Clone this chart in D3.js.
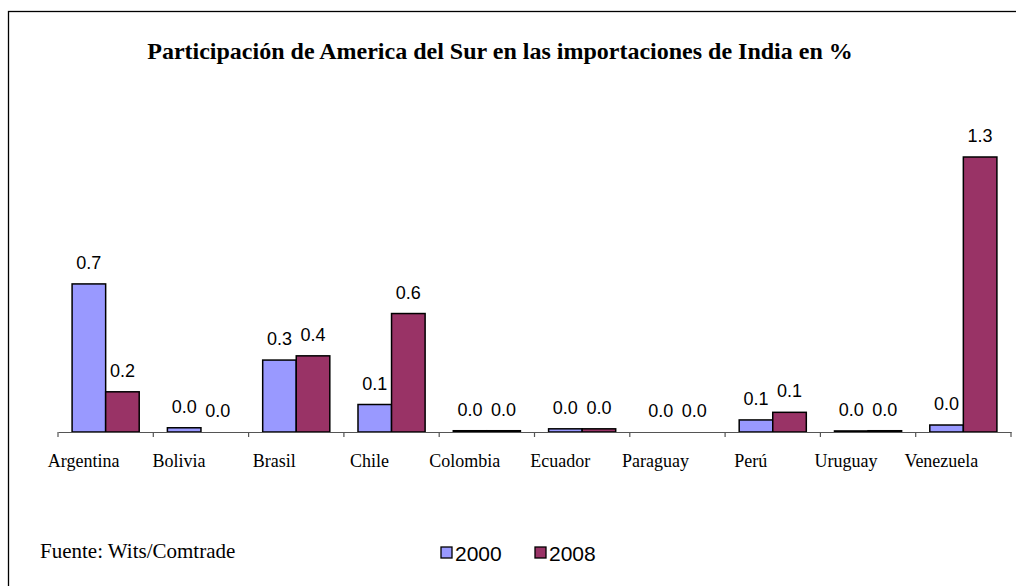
<!DOCTYPE html>
<html>
<head>
<meta charset="utf-8">
<script src="https://cdn.jsdelivr.net/npm/d3@7"></script>
<style>
  body { margin: 0; background: #fff; }
  svg { display: block; }
</style>
</head>
<body>
<svg id="canvas"></svg>
<script>
let countries = ['Argentina', 'Bolivia', 'Brasil', 'Chile', 'Colombia', 'Ecuador', 'Paraguay', 'Perú', 'Uruguay', 'Venezuela']
let years = ['2000', '2008']
let values2000 = [0.70, 0.02, 0.34, 0.13, 0.006, 0.015, 0, 0.057, 0.005, 0.033]
let values2008 = [0.19, 0.0, 0.36, 0.56, 0.006, 0.015, 0, 0.093, 0.006, 1.30]
let colors = ['#9999FF', '#993366']

let width = 1016
let height = 586

let serif = '"Liberation Serif", "Times New Roman", serif'
let sans = '"Liberation Sans", Arial, sans-serif'

let svg = d3.select('#canvas')
svg.attr('width', width)
svg.attr('height', height)

// frame (runs off the right and bottom edges like in the picture)
svg.append('rect')
    .attr('x', 8.5)
    .attr('y', 11.5)
    .attr('width', 1100)
    .attr('height', 700)
    .attr('fill', 'none')
    .attr('stroke', '#000')
    .attr('stroke-width', 1.3)

svg.append('text')
    .attr('x', 500)
    .attr('y', 59)
    .attr('text-anchor', 'middle')
    .style('font-family', serif)
    .style('font-weight', 'bold')
    .style('font-size', '24px')
    .text('Participación de America del Sur en las importaciones de India en %')

let rows = countries.map((c, i) => ({country: c, vals: [values2000[i], values2008[i]]}))

let xScale = d3.scaleBand()
    .domain(countries)
    .range([58, 1011])
    .paddingInner(0)

let xInner = d3.scaleBand()
    .domain(years)
    .range([0, xScale.bandwidth()])
    .paddingInner(0)
    .paddingOuter(0.42)

let yScale = d3.scaleLinear()
    .domain([0, 1.3])
    .range([432, 157])

let groups = svg.selectAll('g.country')
    .data(rows)
    .enter()
    .append('g')
    .attr('class', 'country')
    .attr('transform', (d) => 'translate(' + xScale(d.country) + ',0)')

groups.selectAll('rect')
    .data((d) => d.vals.map((v, j) => ({year: years[j], value: v, j: j})))
    .enter()
    .append('rect')
    .attr('x', (d) => xInner(d.year))
    .attr('y', (d) => yScale(d.value))
    .attr('width', xInner.bandwidth())
    .attr('height', (d) => yScale(0) - yScale(d.value))
    .attr('fill', (d) => colors[d.j])
    .attr('stroke', '#000')
    .attr('stroke-width', 1.5)

groups.selectAll('text.val')
    .data((d) => d.vals.map((v, j) => ({year: years[j], value: v})))
    .enter()
    .append('text')
    .attr('class', 'val')
    .attr('x', (d) => xInner(d.year) + xInner.bandwidth() / 2)
    .attr('y', (d) => yScale(d.value) - 15)
    .attr('text-anchor', 'middle')
    .style('font-family', sans)
    .style('font-size', '18px')
    .text((d) => d3.format('.1f')(d.value))

let xAxis = d3.axisBottom(xScale)
    .tickSizeInner(0)
    .tickSizeOuter(0)
    .tickPadding(0)

let axisG = svg.append('g')
    .attr('transform', 'translate(0, 432)')
    .call(xAxis)

axisG.select('.domain').attr('stroke', '#555').attr('stroke-width', 1.2)
axisG.selectAll('.tick text')
    .attr('y', 35)
    .attr('dy', 0)
    .attr('dx', -22)
    .style('font-family', serif)
    .style('font-size', '18px')
    .attr('fill', '#000')

// ticks at the band boundaries
let boundaries = countries.map((c) => xScale(c)).concat([xScale.range()[1]])
axisG.selectAll('line.sep')
    .data(boundaries)
    .enter()
    .append('line')
    .attr('class', 'sep')
    .attr('x1', (d) => d)
    .attr('x2', (d) => d)
    .attr('y1', 0)
    .attr('y2', 5)
    .attr('stroke', '#555')
    .attr('stroke-width', 1.2)

svg.append('text')
    .attr('x', 40)
    .attr('y', 558)
    .style('font-family', serif)
    .style('font-size', '21px')
    .text('Fuente: Wits/Comtrade')

let legendX = [441, 535]
let legend = svg.selectAll('g.legend')
    .data(years)
    .enter()
    .append('g')
    .attr('class', 'legend')
    .attr('transform', (d, i) => 'translate(' + legendX[i] + ', 547)')

legend.append('rect')
    .attr('width', 11)
    .attr('height', 11)
    .attr('fill', (d, i) => colors[i])
    .attr('stroke', '#000')
    .attr('stroke-width', 1.3)

legend.append('text')
    .attr('x', 14)
    .attr('y', 14)
    .style('font-family', sans)
    .style('font-size', '21px')
    .text((d) => d)
</script>
</body>
</html>
